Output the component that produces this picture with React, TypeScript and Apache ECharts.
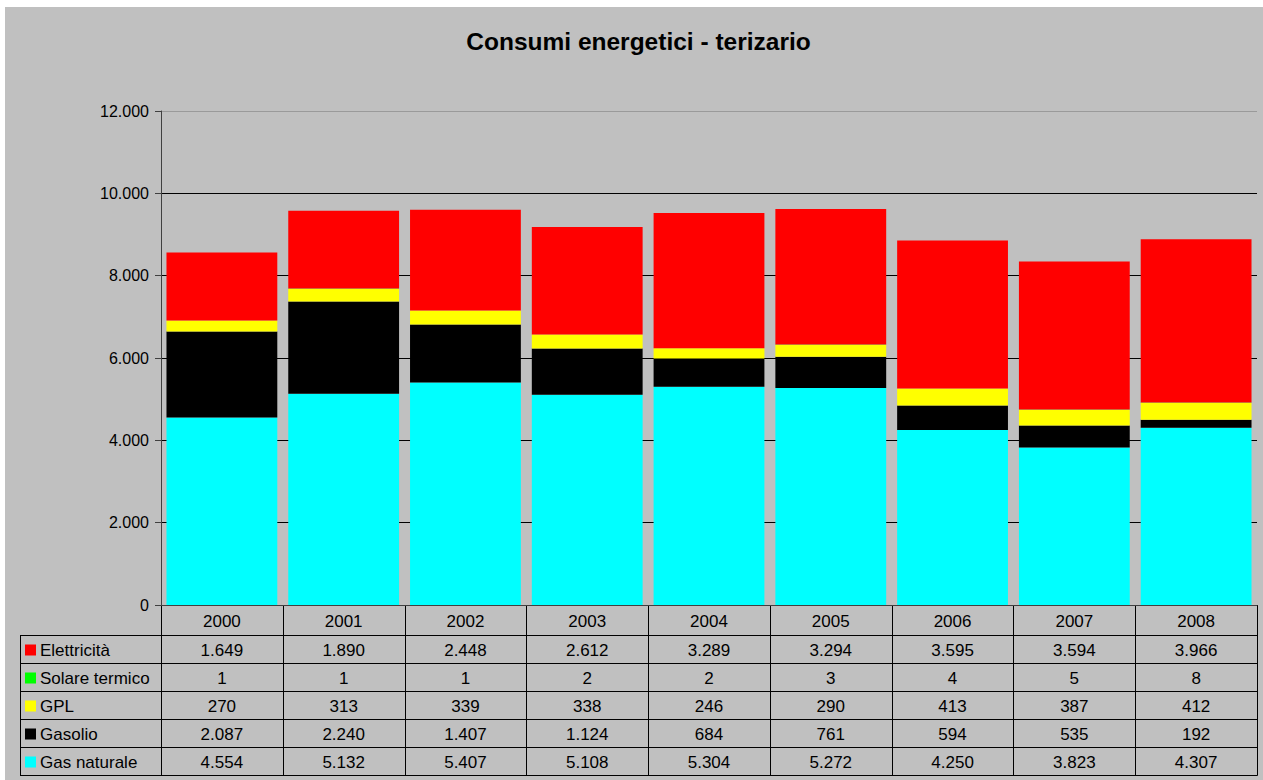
import React, { useEffect, useRef } from "react";
import * as echarts from "echarts";

const years = ["2000", "2001", "2002", "2003", "2004", "2005", "2006", "2007", "2008"];
const elettricita = [1649, 1890, 2448, 2612, 3289, 3294, 3595, 3594, 3966];
const solareTermico = [1, 1, 1, 2, 2, 3, 4, 5, 8];
const gpl = [270, 313, 339, 338, 246, 290, 413, 387, 412];
const gasolio = [2087, 2240, 1407, 1124, 684, 761, 594, 535, 192];
const gasNaturale = [4554, 5132, 5407, 5108, 5304, 5272, 4250, 3823, 4307];

const yTicks = { min: 0, max: 12000, interval: 2000 };

// stacking order: bottom to top
const stackNames = ["Gas naturale", "Gasolio", "GPL", "Solare termico", "Elettricità"];
const stackData = [gasNaturale, gasolio, gpl, solareTermico, elettricita];
const stackColors = ["#00FFFF", "#000000", "#FFFF00", "#00FF00", "#FF0000"];

// table order: top to bottom
const tableOrder = [4, 3, 2, 1, 0];

const TITLE = "Consumi energetici - terizario";

const fmt = (v: number) => String(v).replace(/\B(?=(\d{3})+(?!\d))/g, ".");

const W = 1263;
const H = 780;
const GL = 161; // grid left x
const GR = 1257; // grid right x
const GT = 111; // grid top y
const GB = 605; // grid bottom y
const TABLE_LEFT = 20;
const HEADER_BOTTOM = 635.5;
const ROW_H = 28;
const FONT = "'Liberation Sans', Arial, sans-serif";

export default function App() {
  const ref = useRef<HTMLDivElement>(null);
  useEffect(() => {
    document.body.style.margin = "0";
    const chart = echarts.init(ref.current!, null, { renderer: "svg" });
    const colW = (GR - GL) / years.length;
    const nRows = tableOrder.length;
    const tableBottom = HEADER_BOTTOM + nRows * ROW_H;
    const lineStyle = { stroke: "#000", lineWidth: 1 };
    const els: any[] = [];
    els.push({
      type: "rect",
      z: -100,
      shape: { x: 5, y: 7, width: W - 5, height: H - 7 },
      style: { fill: "#C0C0C0" },
      silent: true,
    });
    els.push({
      type: "text",
      x: 638.5,
      y: 41,
      style: {
        text: TITLE,
        fill: "#000",
        font: `bold 24.5px ${FONT}`,
        align: "center",
        verticalAlign: "middle",
      },
    });
    // vertical lines
    for (let i = 0; i <= years.length; i++) {
      const x = Math.round(GL + i * colW) + 0.5;
      els.push({ type: "line", shape: { x1: x, y1: GB, x2: x, y2: tableBottom }, style: lineStyle });
    }
    els.push({
      type: "line",
      shape: { x1: TABLE_LEFT + 0.5, y1: HEADER_BOTTOM, x2: TABLE_LEFT + 0.5, y2: tableBottom },
      style: lineStyle,
    });
    // horizontal lines
    for (let r = 0; r <= nRows; r++) {
      const y = HEADER_BOTTOM + r * ROW_H;
      els.push({ type: "line", shape: { x1: TABLE_LEFT, y1: y, x2: GR + 0.5, y2: y }, style: lineStyle });
    }
    // header texts
    years.forEach((yr, i) => {
      els.push({
        type: "text",
        x: GL + (i + 0.5) * colW,
        y: (GB + HEADER_BOTTOM) / 2 + 1,
        style: { text: yr, fill: "#000", font: `17px ${FONT}`, align: "center", verticalAlign: "middle" },
      });
    });
    // rows
    tableOrder.forEach((si, r) => {
      const cy = HEADER_BOTTOM + r * ROW_H + ROW_H / 2 + 1;
      els.push({
        type: "rect",
        shape: { x: 25, y: cy - 6, width: 11, height: 11 },
        style: { fill: stackColors[si] },
      });
      els.push({
        type: "text",
        x: 40,
        y: cy,
        style: { text: stackNames[si], fill: "#000", font: `17px ${FONT}`, align: "left", verticalAlign: "middle" },
      });
      stackData[si].forEach((v, i) => {
        els.push({
          type: "text",
          x: GL + (i + 0.5) * colW,
          y: cy,
          style: { text: fmt(v), fill: "#000", font: `17px ${FONT}`, align: "center", verticalAlign: "middle" },
        });
      });
    });

    chart.setOption({
      animation: false,
      backgroundColor: "#FFFFFF",
      grid: { left: GL, right: W - GR, top: GT, bottom: H - GB, containLabel: false },
      xAxis: {
        type: "category",
        data: years,
        axisLine: { show: true, lineStyle: { color: "#404040", width: 1 } },
        axisTick: { show: false },
        axisLabel: { show: false },
      },
      yAxis: {
        type: "value",
        min: yTicks.min,
        max: yTicks.max,
        interval: yTicks.interval,
        axisLine: { show: true, lineStyle: { color: "#404040", width: 1 } },
        axisTick: { show: true, length: 6, lineStyle: { color: "#404040" } },
        axisLabel: {
          color: "#000",
          fontSize: 16,
          fontFamily: FONT,
          margin: 12,
          formatter: (v: number) => fmt(v),
        },
        splitLine: {
          show: true,
          lineStyle: { color: ["#000", "#000", "#000", "#000", "#000", "#000", "#9a9a9a"], width: 1 },
        },
      },
      series: stackNames.map((name, si) => ({
        name,
        type: "bar",
        stack: "total",
        data: stackData[si],
        barCategoryGap: "9%",
        itemStyle: { color: stackColors[si] },
      })),
      graphic: { elements: els },
    });
    return () => chart.dispose();
  }, []);
  return <div ref={ref} style={{ width: W, height: H, position: "absolute", left: 0, top: 0 }} />;
}
